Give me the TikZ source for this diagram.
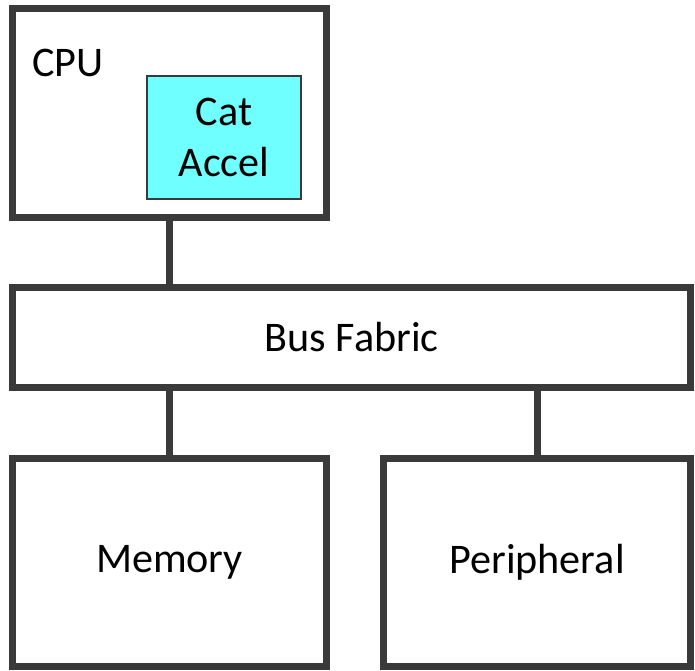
\documentclass[tikz,border=0pt]{standalone}
\usepackage{fontspec}
\setmainfont{Carlito}
\definecolor{edge}{RGB}{58,58,58}
\definecolor{accel}{RGB}{112,255,255}
\tikzset{
  block/.style={draw=edge,line width=0.14cm,rectangle,inner sep=0pt,fill=white,
    font=\fontsize{24}{29}\selectfont},
  wire/.style={draw=edge,line width=0.14cm}
}
\begin{document}
\begin{tikzpicture}[x=0.02cm,y=-0.02cm]
\useasboundingbox (0,0) rectangle (695,670);

\node[block,minimum width=6.28cm,minimum height=4.2cm] (cpu) at (169.5,113) {};
\node[anchor=base west,font=\fontsize{24}{29}\selectfont,inner sep=0pt] (cpulabel) at (32,76) {CPU};
\node[block,draw=edge,line width=0.04cm,fill=accel,minimum width=3.08cm,minimum height=2.46cm,align=center] (cat) at (224,137.5) {Cat\\Accel};

\node[block,minimum width=13.57cm,minimum height=2cm] (bus) at (351.75,337.25) {Bus Fabric};

\node[block,minimum width=6.28cm,minimum height=4.17cm] (mem) at (169.5,562.25) {Memory};
\node[block,minimum width=6.16cm,minimum height=4.17cm] (per) at (537,562.25) {Peripheral};

\draw[wire] (cpu.south) -- (bus.north -| cpu.south);
\draw[wire] (bus.south -| mem.north) -- (mem.north);
\draw[wire] (bus.south -| per.north) -- (per.north);
\end{tikzpicture}
\end{document}
